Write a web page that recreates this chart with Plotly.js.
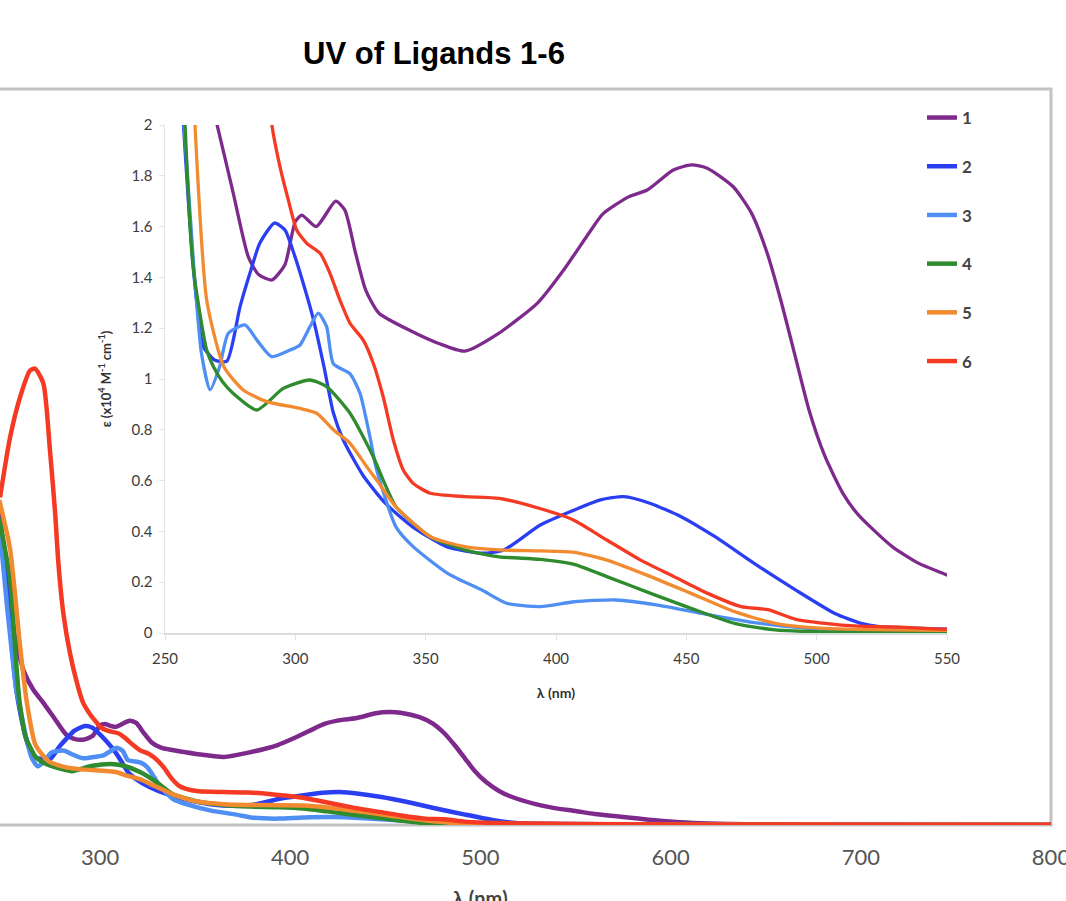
<!DOCTYPE html>
<html><head><meta charset="utf-8">
<script src="https://cdn.plot.ly/plotly-3.0.1.min.js"></script>
<style>html,body{margin:0;padding:0;background:#fff}#chart{width:1066px;height:901px}</style>
</head><body><div id="chart"></div>
<script>
const ligandNames = ['1', '2', '3', '4', '5', '6'];
const ligandColors = ['#7d2a8c', '#2b3ff2', '#4f8ef2', '#2e8b2e', '#f28a30', '#f53a24'];

const wl1 = [247, 250, 255, 260, 265, 270, 276, 282, 286, 291, 296, 300, 302.5, 308, 315.5, 319, 323, 327, 332, 345, 355, 365, 378, 393, 403, 413, 418, 428, 435, 445, 452, 458, 468, 475, 481, 486.5, 492, 497, 503, 510, 516, 529, 539, 550, 560, 575, 590, 605, 620, 640, 670, 700, 750, 800];
const eps1 = [5.2, 4.3, 3.1, 2.5, 2.2, 2.0, 1.74, 1.48, 1.41, 1.39, 1.45, 1.62, 1.645, 1.60, 1.70, 1.665, 1.50, 1.35, 1.26, 1.186, 1.14, 1.11, 1.18, 1.30, 1.43, 1.58, 1.65, 1.718, 1.744, 1.823, 1.843, 1.83, 1.757, 1.653, 1.496, 1.30, 1.08, 0.88, 0.70, 0.551, 0.465, 0.34, 0.275, 0.228, 0.18, 0.13, 0.08, 0.045, 0.025, 0.012, 0.006, 0.003, 0.001, 0];

const wl2 = [247, 251, 256, 260, 262.2, 264.6, 269, 273.7, 278.8, 282.6, 286.4, 292, 296, 299, 303, 307, 311, 314.6, 318.4, 326, 334.6, 345, 358, 371.6, 380, 394, 407, 417, 426, 436, 448, 461, 476, 492, 507, 517, 524, 535, 550, 600, 800];
const eps2 = [5.0, 3.8, 2.2, 1.55, 1.3, 1.13, 1.075, 1.07, 1.285, 1.417, 1.535, 1.614, 1.587, 1.508, 1.378, 1.232, 1.048, 0.866, 0.76, 0.62, 0.51, 0.418, 0.34, 0.314, 0.327, 0.425, 0.484, 0.524, 0.537, 0.511, 0.458, 0.379, 0.274, 0.169, 0.077, 0.038, 0.025, 0.02, 0.015, 0.005, 0];

const wl3 = [247, 251, 256, 258, 261, 264, 267.3, 271, 274.3, 280.7, 285.2, 290.9, 298, 301.8, 305.6, 308.8, 312, 314.6, 321, 324.8, 328.6, 331.2, 338.6, 345.2, 358.4, 371.6, 381, 394, 407, 423, 439, 456, 474, 497, 520, 550, 800];
const eps3 = [4.9, 3.6, 2.2, 1.9, 1.45, 1.1, 0.957, 1.05, 1.18, 1.213, 1.154, 1.088, 1.114, 1.134, 1.206, 1.259, 1.206, 1.06, 1.02, 0.944, 0.773, 0.642, 0.418, 0.34, 0.235, 0.169, 0.117, 0.104, 0.123, 0.13, 0.11, 0.077, 0.044, 0.018, 0.01, 0.008, 0];

const wl4 = [247, 252.7, 256, 257.7, 260.8, 266, 268.5, 272, 276.2, 285.2, 295.4, 305.6, 312, 321, 329.9, 333.7, 338.6, 351.8, 365, 378.2, 394, 407, 419.5, 436.3, 451.8, 468.5, 484, 503, 550, 800];
const eps4 = [5.0, 4.0, 2.6, 2.0, 1.44, 1.114, 1.05, 0.99, 0.943, 0.878, 0.963, 0.996, 0.97, 0.865, 0.694, 0.602, 0.497, 0.379, 0.327, 0.3, 0.29, 0.27, 0.222, 0.156, 0.097, 0.038, 0.012, 0.004, 0.002, 0];

const wl5 = [247, 252.7, 258, 261.5, 266, 272.6, 280, 289, 301.8, 308.2, 314.6, 321, 327.4, 331.2, 338.6, 351.8, 365, 378.2, 394, 406.7, 419.5, 436.3, 451.8, 468.5, 484, 503, 550, 800];
const eps5 = [5.3, 4.5, 2.9, 2.0, 1.31, 1.048, 0.957, 0.911, 0.884, 0.865, 0.8, 0.747, 0.655, 0.602, 0.497, 0.379, 0.34, 0.327, 0.323, 0.318, 0.287, 0.222, 0.156, 0.084, 0.038, 0.018, 0.01, 0];

const wl6 = [247.4, 252.7, 258, 263.2, 265.8, 270.2, 273.7, 276.4, 278.1, 280.7, 284.2, 288, 291, 294.1, 297.3, 300.5, 304.4, 309.5, 313.3, 317.1, 321, 326, 329.9, 333.7, 337.6, 341.4, 345.2, 351.8, 365, 378.2, 393.8, 406.7, 419.5, 432.5, 445.3, 458.2, 471, 481.3, 491.7, 503.2, 516, 529, 550, 600, 800];
const eps6 = [5.34, 6.32, 6.98, 7.41, 7.44, 7.2, 6.1, 5.08, 4.27, 3.45, 2.8, 2.3, 2.0, 1.836, 1.705, 1.587, 1.534, 1.495, 1.416, 1.311, 1.219, 1.154, 1.062, 0.93, 0.76, 0.642, 0.589, 0.55, 0.537, 0.53, 0.49, 0.445, 0.366, 0.287, 0.222, 0.156, 0.104, 0.092, 0.055, 0.038, 0.027, 0.024, 0.015, 0.008, 0.005];

const mainXTicks = [300, 400, 500, 600, 700, 800];
const insetXTicks = [250, 300, 350, 400, 450, 500, 550];
const insetYTicks = [0, 0.2, 0.4, 0.6, 0.8, 1, 1.2, 1.4, 1.6, 1.8, 2];

const chartTitle = 'UV of Ligands 1-6';
const xTitle = 'λ (nm)';
const insetYTitle = 'ε (x10<sup>4</sup> M<sup>-1</sup> cm<sup>-1</sup>)';

const allWl = [wl1, wl2, wl3, wl4, wl5, wl6];
const allEps = [eps1, eps2, eps3, eps4, eps5, eps6];

const W = 1066, H = 901;
const px = v => v / W;
const py = v => (H - v) / H;

const traces = [];
for (let i = 0; i < 6; i++) {
  traces.push({
    x: allWl[i], y: allEps[i], type: 'scatter', mode: 'lines',
    name: ligandNames[i], legendgroup: 'g' + i, showlegend: true,
    line: {color: ligandColors[i], width: 4.5, shape: 'spline', smoothing: 0.6},
    xaxis: 'x', yaxis: 'y', hoverinfo: 'skip'
  });
}
for (let i = 0; i < 6; i++) {
  traces.push({
    x: allWl[i], y: allEps[i], type: 'scatter', mode: 'lines',
    name: ligandNames[i], legendgroup: 'g' + i, showlegend: false,
    line: {color: ligandColors[i], width: 3.3, shape: 'spline', smoothing: 0.6},
    xaxis: 'x2', yaxis: 'y2', hoverinfo: 'skip'
  });
}

const layout = {
  width: W, height: H,
  margin: {l: 0, r: 0, t: 0, b: 0},
  paper_bgcolor: '#fff', plot_bgcolor: 'rgba(0,0,0,0)',
  showlegend: true,
  title: {text: chartTitle, x: px(434), xanchor: 'center', xref: 'paper',
          y: py(53), yanchor: 'middle', yref: 'paper',
          font: {family: 'Liberation Sans, Arial, sans-serif', size: 31, color: '#000', weight: 'bold'}},
  xaxis: {domain: [0, px(1051)], range: [247.4, 800], tickvals: mainXTicks,
          showgrid: false, zeroline: false, showline: false,
          ticks: 'outside', ticklen: 13, tickcolor: 'rgba(0,0,0,0)', ticklabeloverflow: 'allow',
          tickfont: {family: 'Lato, sans-serif', size: 22, color: '#555'}},
  yaxis: {domain: [py(825), py(89)], range: [0, 12], showticklabels: false,
          showgrid: false, zeroline: false, showline: false, ticks: ''},
  xaxis2: {domain: [px(165), px(947)], range: [250, 550], anchor: 'y2', tickvals: insetXTicks,
           showgrid: false, zeroline: false, showline: true, linecolor: '#dcdcdc', linewidth: 2,
           ticks: 'outside', ticklen: 5, tickcolor: '#e4e4e4', ticklabelstandoff: 6,
           tickfont: {family: 'Lato, sans-serif', size: 15, color: '#3c3c3c'},
           title: {text: xTitle, standoff: 22, font: {family: 'Lato, sans-serif', size: 14, color: '#333', weight: 'bold'}}},
  yaxis2: {domain: [py(633), py(125)], range: [0, 2], anchor: 'x2', tickvals: insetYTicks,
           showgrid: false, zeroline: false, showline: true, linecolor: '#e2e2e2', linewidth: 1.5,
           ticks: 'outside', ticklen: 5, tickcolor: '#e4e4e4', ticklabelstandoff: 3,
           tickfont: {family: 'Lato, sans-serif', size: 15, color: '#3c3c3c'},
           title: {text: insetYTitle, standoff: 17, font: {family: 'Lato, sans-serif', size: 13, color: '#333', weight: 'bold'}}},
  legend: {x: px(922), y: py(100), xanchor: 'left', yanchor: 'top',
           font: {family: 'Lato, sans-serif', size: 17, color: '#444', weight: 'bold'},
           bgcolor: 'rgba(0,0,0,0)', tracegroupgap: 23.6, traceorder: 'grouped'},
  shapes: [{type: 'rect', xref: 'paper', yref: 'paper', x0: -0.01, x1: px(1051), y0: py(825), y1: py(89),
            line: {color: '#c2c2c2', width: 3}, layer: 'below'}],
  annotations: [{text: xTitle, xref: 'x', yref: 'paper', x: 500, y: py(884), xanchor: 'center', yanchor: 'top',
                 showarrow: false, font: {family: 'Lato, sans-serif', size: 20, color: '#444', weight: 'bold'}}]
};

Plotly.newPlot('chart', traces, layout, {displayModeBar: false, staticPlot: true});
</script></body></html>
